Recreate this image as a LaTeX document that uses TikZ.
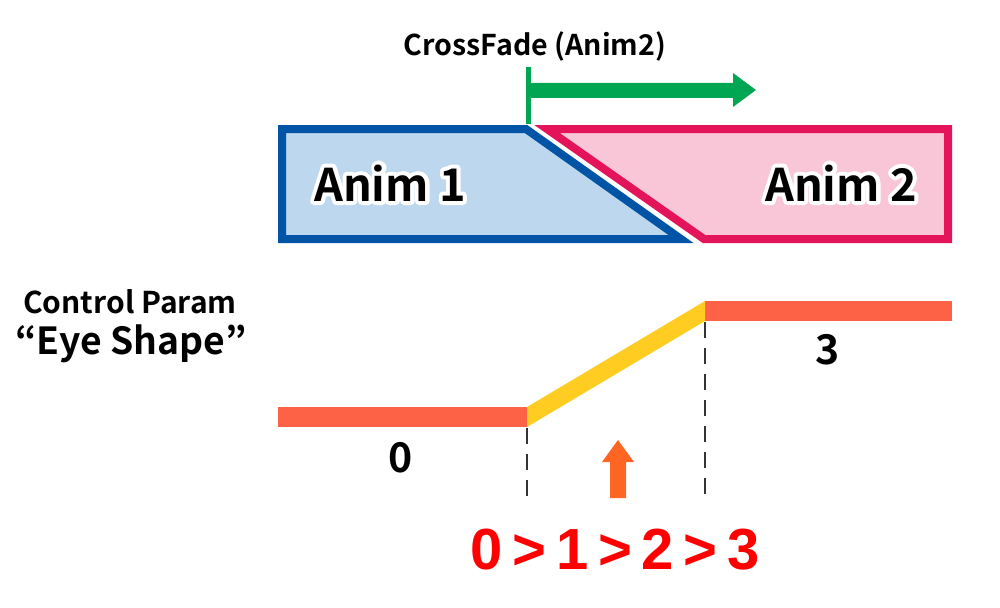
\documentclass[tikz,border=0pt]{standalone}
\usepackage{fontspec}
\setmainfont{Noto Sans CJK JP}[BoldFont={Noto Sans CJK JP Bold}]
\newfontfamily\seqfont{Liberation Sans}
\newcommand\halotext[1]{\leavevmode\rlap{\special{pdf:literal direct 1 Tr 8 w 1 J 1 j 1 1 1 RG}#1\special{pdf:literal direct 0 Tr 0.4 w 0 0 0 RG}}#1}
\definecolor{blueS}{HTML}{0054A6}
\definecolor{blueF}{HTML}{BDD7EF}
\definecolor{pinkS}{HTML}{E4145A}
\definecolor{pinkF}{HTML}{F8C6D6}
\definecolor{greenA}{HTML}{00A651}
\definecolor{barO}{HTML}{FD6247}
\definecolor{yellowA}{HTML}{FFCC21}
\definecolor{arrowO}{HTML}{FF6523}
\definecolor{redA}{HTML}{FF0000}
\definecolor{dashC}{HTML}{333333}
\begin{document}
\begin{tikzpicture}[x=1pt,y=-1pt,
  lbl/.style={font=\bfseries\fontsize{#1}{#1}\selectfont, inner sep=0pt, anchor=base},
  clip1/.style={line width=8pt, line join=miter, miter limit=20},
  dashline/.style={draw=dashC, line width=2.5pt, dash pattern=on 16pt off 10pt},
]
\useasboundingbox[fill=white] (0,0) rectangle (1000,607);
% animation blocks
\draw[clip1, draw=blueS, fill=blueF] (282,129) -- (526,129) -- (681,239) -- (282,239) -- cycle;
\draw[clip1, draw=pinkS, fill=pinkF] (547,129) -- (948,129) -- (948,239) -- (704,239) -- cycle;
% crossfade marker
\coordinate (cft) at (528,67);
\coordinate (cfb) at (528,124);
\draw[greenA, line width=5pt] (cft) -- (cfb);
\fill[greenA] (528,83) -- (733,83) -- (733,73) -- (756,90) -- (733,107) -- (733,98) -- (528,98) -- cycle;
\node[lbl=28.6] (cf) at (535,56) {CrossFade (Anim2)};
% labels in blocks
\node[lbl=45] (a1) at (390,201) {\halotext{Anim 1}};
\node[lbl=45] (a2) at (841,201) {\halotext{Anim 2}};
% control param
\node[lbl=30] (cp) at (130,313) {Control Param};
\node[lbl=37.3] (es) at (131,354) {“Eye Shape”};
% graph
\fill[barO] (278,407) rectangle (527,427);
\fill[barO] (705,301) rectangle (952,321);
\fill[yellowA] (527,407) -- (705,301) -- (705,321) -- (527,427) -- cycle;
\coordinate (d1t) at (527,428);
\coordinate (d1b) at (527,502);
\coordinate (d2t) at (705,322);
\coordinate (d2b) at (705,502);
\draw[dashline] (d1t) -- (d1b);
\draw[dashline] (d2t) -- (d2b);
\node[lbl=41] (v0) at (401,472) {0};
\node[lbl=41] (v3) at (828,364) {3};
% up arrow
\fill[arrowO] (610,498) -- (610,462) -- (602,462) -- (618,440) -- (634,462) -- (626,462) -- (626,498) -- cycle;
% sequence
\node[lbl=58, text=redA, font=\seqfont\bfseries\fontsize{58}{58}\selectfont] (seq) at (615,569) {0\,>\,1\,>\,2\,>\,3};
\end{tikzpicture}
\end{document}
